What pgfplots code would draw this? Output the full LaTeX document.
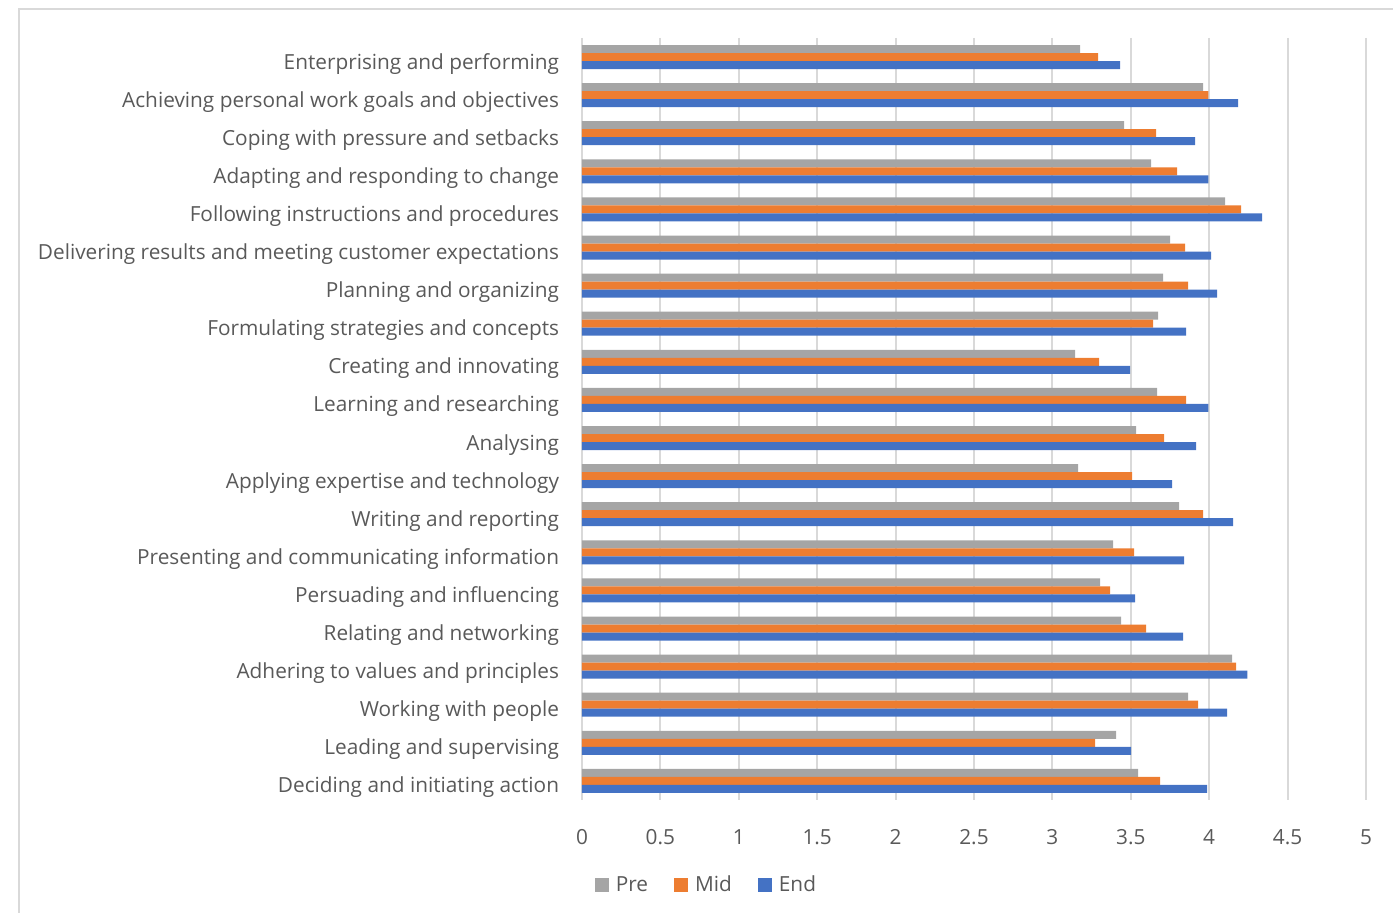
\documentclass[border=0pt]{standalone}
\usepackage{fontspec}
\setmainfont{Open Sans}
\usepackage{pgfplots}
\pgfplotsset{compat=1.18}
\definecolor{pre}{HTML}{A5A5A5}
\definecolor{mid}{HTML}{ED7D31}
\definecolor{endc}{HTML}{4472C4}
\definecolor{txt}{HTML}{595959}
\definecolor{gridc}{HTML}{D9D9D9}
\newcommand{\chartfont}{\fontsize{10.4}{12.5}\selectfont}

\begin{document}
\begin{tikzpicture}
\begin{axis}[
    xbar,
    scale only axis,
    width=392pt, height=381pt,
    xmin=0, xmax=5,
    ymin=-0.5, ymax=19.5,
    y dir=reverse,
    bar width=4pt,
    xtick={0,0.5,1,1.5,2,2.5,3,3.5,4,4.5,5},
    ytick={0,...,19},
    yticklabels={
        Enterprising and performing\hspace{3pt},
        Achieving personal work goals and objectives,
        Coping with pressure and setbacks,
        Adapting and responding to change,
        Following instructions and procedures,
        Delivering results and meeting customer expectations,
        Planning and organizing,
        Formulating strategies and concepts,
        Creating and innovating,
        Learning and researching,
        Analysing,
        Applying expertise and technology,
        Writing and reporting\hspace{3pt},
        Presenting and communicating information,
        Persuading and influencing,
        Relating and networking,
        Adhering to values and principles,
        Working with people,
        Leading and supervising,
        Deciding and initiating action},
    xmajorgrids,
    grid style={line width=1pt, gridc},
    axis line style={draw=none},
    tick style={draw=none},
    /pgf/number format/assume math mode=true,
    xticklabel style={font=\chartfont, text=txt, anchor=base, yshift=-22.5pt},
    yticklabel style={font=\chartfont, text=txt, anchor=base east, inner sep=0pt, xshift=-7pt, yshift=-6pt},
    legend columns=3,
    legend style={at={(axis cs:0.8,21.74)}, anchor=center, draw=none, fill=none,
        font=\chartfont, text=txt,
        /tikz/every odd column/.append style={column sep=1.5pt},
        /tikz/every even column/.append style={column sep=11pt}},
    legend image code/.code={\fill[#1] (0pt,-3.5pt) rectangle (7pt,3.5pt);},
]
\addplot[fill=pre, draw=none, bar shift=4pt] coordinates {
    (3.177,0) (3.962,1) (3.457,2) (3.630,3) (4.102,4)
    (3.751,5) (3.706,6) (3.674,7) (3.145,8) (3.668,9)
    (3.534,10) (3.164,11) (3.809,12) (3.387,13) (3.304,14)
    (3.438,15) (4.147,16) (3.866,17) (3.406,18) (3.547,19)
};
\addlegendentry{Pre}
\addplot[fill=mid, draw=none, bar shift=0pt] coordinates {
    (3.291,0) (3.994,1) (3.662,2) (3.796,3) (4.204,4)
    (3.847,5) (3.866,6) (3.643,7) (3.298,8) (3.853,9)
    (3.713,10) (3.509,11) (3.962,12) (3.521,13) (3.368,14)
    (3.598,15) (4.172,16) (3.930,17) (3.272,18) (3.687,19)
};
\addlegendentry{Mid}
\addplot[fill=endc, draw=none, bar shift=-4pt] coordinates {
    (3.432,0) (4.185,1) (3.911,2) (3.994,3) (4.338,4)
    (4.013,5) (4.051,6) (3.853,7) (3.496,8) (3.994,9)
    (3.917,10) (3.764,11) (4.153,12) (3.840,13) (3.528,14)
    (3.834,15) (4.243,16) (4.115,17) (3.502,18) (3.987,19)
};
\addlegendentry{End}
\end{axis}
\draw[gridc, line width=1pt] ([shift={(-281.5pt,-70pt)}]current axis.south west) |- ([shift={(30pt,14.5pt)}]current axis.north east);
\pgfresetboundingbox
\path[use as bounding box] ([shift={(-291pt,-56.5pt)}]current axis.south west) rectangle ([shift={(13.5pt,19pt)}]current axis.north east);
\end{tikzpicture}
\end{document}
